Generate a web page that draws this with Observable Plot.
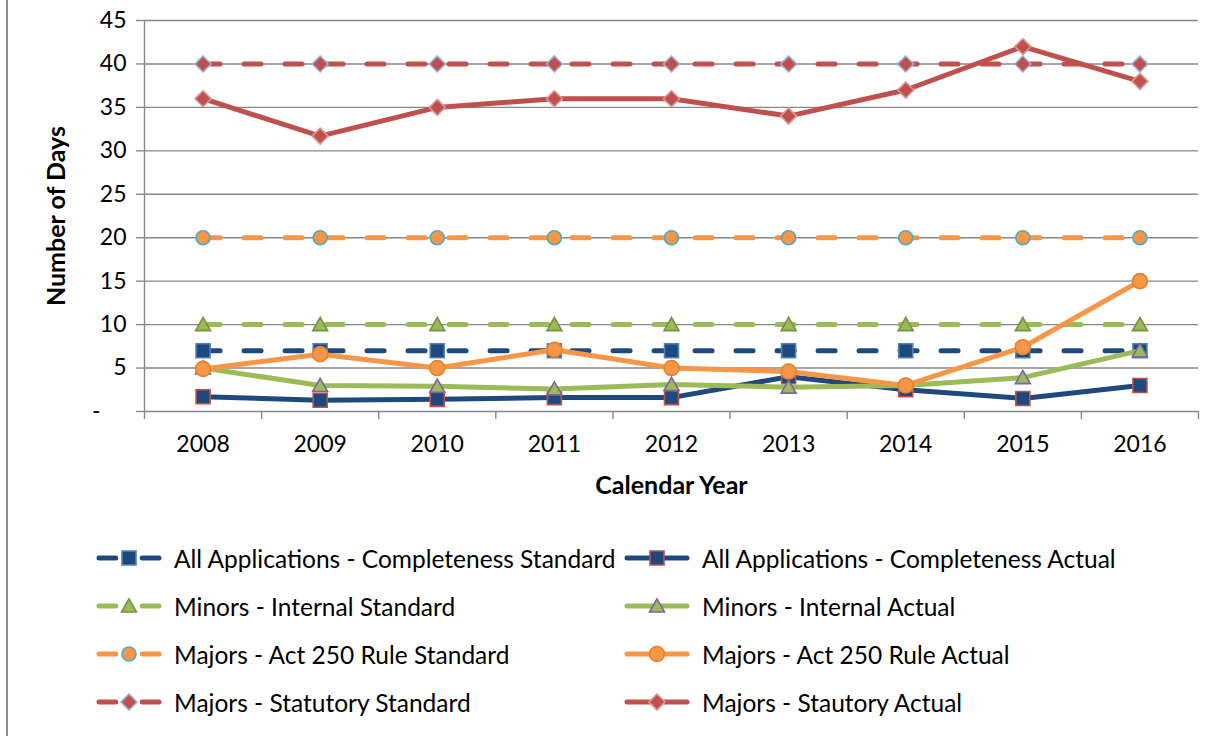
<!DOCTYPE html>
<html><head><meta charset="utf-8">
<script src="https://cdn.jsdelivr.net/npm/d3@7"></script>
<script src="https://cdn.jsdelivr.net/npm/@observablehq/plot@0.6"></script>
<style>
body{margin:0;background:#fff;font-family:Lato,sans-serif;}
#wrap{position:relative;width:1225px;height:736px;overflow:hidden;background:#fff;}
#frame{position:absolute;left:6px;top:0;width:2px;height:736px;background:#8a8a8a;}
#chart{position:absolute;left:0;top:0;}
#chart svg{font-family:Lato,sans-serif;overflow:visible;}
#chart [aria-label="y-axis label"] text,#chart [aria-label="x-axis label"] text{font-weight:bold;font-size:25px;fill:#000;}
#legend{position:absolute;left:0;top:534px;width:1225px;}
.row{position:absolute;height:48px;display:flex;align-items:center;font-size:24.5px;color:#000;white-space:nowrap;}
.row svg{margin-right:12px;}
</style></head>
<body><div id="wrap"><div id="frame"></div><div id="chart"></div><div id="legend"></div></div>
<script>
const years = [2008, 2009, 2010, 2011, 2012, 2013, 2014, 2015, 2016];
const yTicks = [5, 10, 15, 20, 25, 30, 35, 40, 45];
const seriesNames = [
  "All Applications - Completeness Standard",
  "All Applications - Completeness Actual",
  "Minors - Internal Standard",
  "Minors - Internal Actual",
  "Majors - Act 250 Rule Standard",
  "Majors - Act 250 Rule Actual",
  "Majors - Statutory Standard",
  "Majors - Stautory Actual"
];
const completenessStandard = [7, 7, 7, 7, 7, 7, 7, 7, 7];
const completenessActual   = [1.7, 1.3, 1.4, 1.6, 1.6, 4.0, 2.5, 1.5, 3.0];
const minorsStandard       = [10, 10, 10, 10, 10, 10, 10, 10, 10];
const minorsActual         = [5.0, 3.0, 2.9, 2.6, 3.1, 2.8, 3.0, 3.9, 7.0];
const act250Standard       = [20, 20, 20, 20, 20, 20, 20, 20, 20];
const act250Actual         = [4.9, 6.6, 5.0, 7.1, 5.0, 4.6, 3.0, 7.4, 15.0];
const statutoryStandard    = [40, 40, 40, 40, 40, 40, 40, 40, 40];
const statutoryActual      = [36, 31.7, 35, 36, 36, 34, 37, 42, 38];

const values = [completenessStandard, completenessActual, minorsStandard, minorsActual,
                act250Standard, act250Actual, statutoryStandard, statutoryActual];

// marker symbols (r = half extent)
const sq = {draw(c, s){const h=Math.sqrt(s/Math.PI); c.rect(-h,-h,2*h,2*h);}};
const tri = {draw(c, s){const h=Math.sqrt(s/Math.PI); c.moveTo(0,-h*0.95); c.lineTo(h,h*0.8); c.lineTo(-h,h*0.8); c.closePath();}};
const dia = {draw(c, s){const h=Math.sqrt(s/Math.PI); c.moveTo(0,-h); c.lineTo(h,0); c.lineTo(0,h); c.lineTo(-h,0); c.closePath();}};
const circ = {draw(c, s){const h=Math.sqrt(s/Math.PI); c.moveTo(h,0); c.arc(0,0,h,0,2*Math.PI);}};

const styles = [
  {color:"#1F497D", dash:true,  symbol:sq,   r:7,   fill:"#1F497D", ms:"#4F81BD"},
  {color:"#1F497D", dash:false, symbol:sq,   r:7,   fill:"#1F497D", ms:"#C0504D"},
  {color:"#9BBB59", dash:true,  symbol:tri,  r:7.5, fill:"#9BBB59", ms:"#779240"},
  {color:"#9BBB59", dash:false, symbol:tri,  r:7.5, fill:"#9BBB59", ms:"#8064A2"},
  {color:"#F79646", dash:true,  symbol:circ, r:7,   fill:"#F79646", ms:"#4BACC6"},
  {color:"#F79646", dash:false, symbol:circ, r:7.5, fill:"#F79646", ms:"#E5822A"},
  {color:"#C0504D", dash:true,  symbol:dia,  r:8,   fill:"#C0504D", ms:"#95B3D7"},
  {color:"#C0504D", dash:false, symbol:dia,  r:8,   fill:"#C0504D", ms:"#D99694"}
];

const data = seriesNames.map((name, i) => years.map((year, j) => ({series: name, year, value: values[i][j]})));
const bounds = years.map(y => y - 0.5).concat([years[years.length-1] + 0.5]);
const grey = "#888888";

const marks = [
  Plot.gridY(yTicks, {stroke: grey, strokeOpacity: 1, strokeWidth: 1.4}),
  Plot.ruleY([0], {stroke: grey, strokeWidth: 1.4}),
  Plot.ruleX([bounds[0]], {stroke: grey, strokeWidth: 1.4}),
  Plot.axisY(yTicks, {tickSize: 8, tickPadding: 10, fontSize: 23, stroke: grey, strokeWidth: 1.4, label: "Number of Days", labelAnchor: "center", labelOffset: 97, labelArrow: "none"}),
  Plot.axisY([0], {tickSize: 8, stroke: grey, strokeWidth: 1.4, tickFormat: () => "", label: null}),
  Plot.axisY([0], {tickSize: 0, tickPadding: 18, fontSize: 23, tickFormat: () => "-", dx: -26, label: null}),
  Plot.axisX(bounds, {tickSize: 8, stroke: grey, strokeWidth: 1.4, tickFormat: () => "", label: null}),
  Plot.axisX(years, {tickSize: 0, tickPadding: 24, fontSize: 23, tickFormat: d => String(d), label: "Calendar Year", labelAnchor: "center", labelOffset: 82, labelArrow: "none"})
];
data.forEach((d, i) => {
  const s = styles[i];
  marks.push(Plot.line(d, {x: "year", y: "value", stroke: s.color, strokeWidth: 5,
    strokeDasharray: s.dash ? "17,24" : null, strokeLinecap: "round", strokeLinejoin: "round"}));
  marks.push(Plot.dot(d, {x: "year", y: "value", symbol: s.symbol, r: s.r, fill: s.fill, stroke: s.ms, strokeWidth: 1.6}));
});

const chart = Plot.plot({
  width: 1225, height: 500,
  marginLeft: 144, marginRight: 27, marginTop: 20, marginBottom: 89,
  x: {type: "linear", domain: [bounds[0], bounds[bounds.length-1]]},
  y: {domain: [0, 45]},
  style: {background: "transparent", color: "#000"},
  marks
});
document.getElementById("chart").appendChild(chart);

// legend
const legend = document.getElementById("legend");
const colLeft = [96, 624];
seriesNames.forEach((name, i) => {
  const s = styles[i];
  const row = document.createElement("div");
  row.className = "row";
  row.style.left = colLeft[i % 2] + "px";
  row.style.top = (Math.floor(i / 2) * 48) + "px";
  const w = 66;
  const svg = d3.create("svg").attr("width", w).attr("height", 22);
  if (s.dash) {
    svg.append("line").attr("x1", 3).attr("x2", w*0.3).attr("y1", 11).attr("y2", 11).attr("stroke", s.color).attr("stroke-width", 5).attr("stroke-linecap", "round");
    svg.append("line").attr("x1", w*0.7).attr("x2", w-3).attr("y1", 11).attr("y2", 11).attr("stroke", s.color).attr("stroke-width", 5).attr("stroke-linecap", "round");
  } else {
    svg.append("line").attr("x1", 3).attr("x2", w-3).attr("y1", 11).attr("y2", 11).attr("stroke", s.color).attr("stroke-width", 5).attr("stroke-linecap", "round");
  }
  svg.append("path").attr("transform", `translate(${w/2},11)`)
    .attr("d", d3.symbol(s.symbol, Math.PI * s.r * s.r)())
    .attr("fill", s.fill).attr("stroke", s.ms).attr("stroke-width", 1.6);
  row.appendChild(svg.node());
  const t = document.createElement("span");
  t.textContent = name;
  row.appendChild(t);
  legend.appendChild(row);
});
</script></body></html>
